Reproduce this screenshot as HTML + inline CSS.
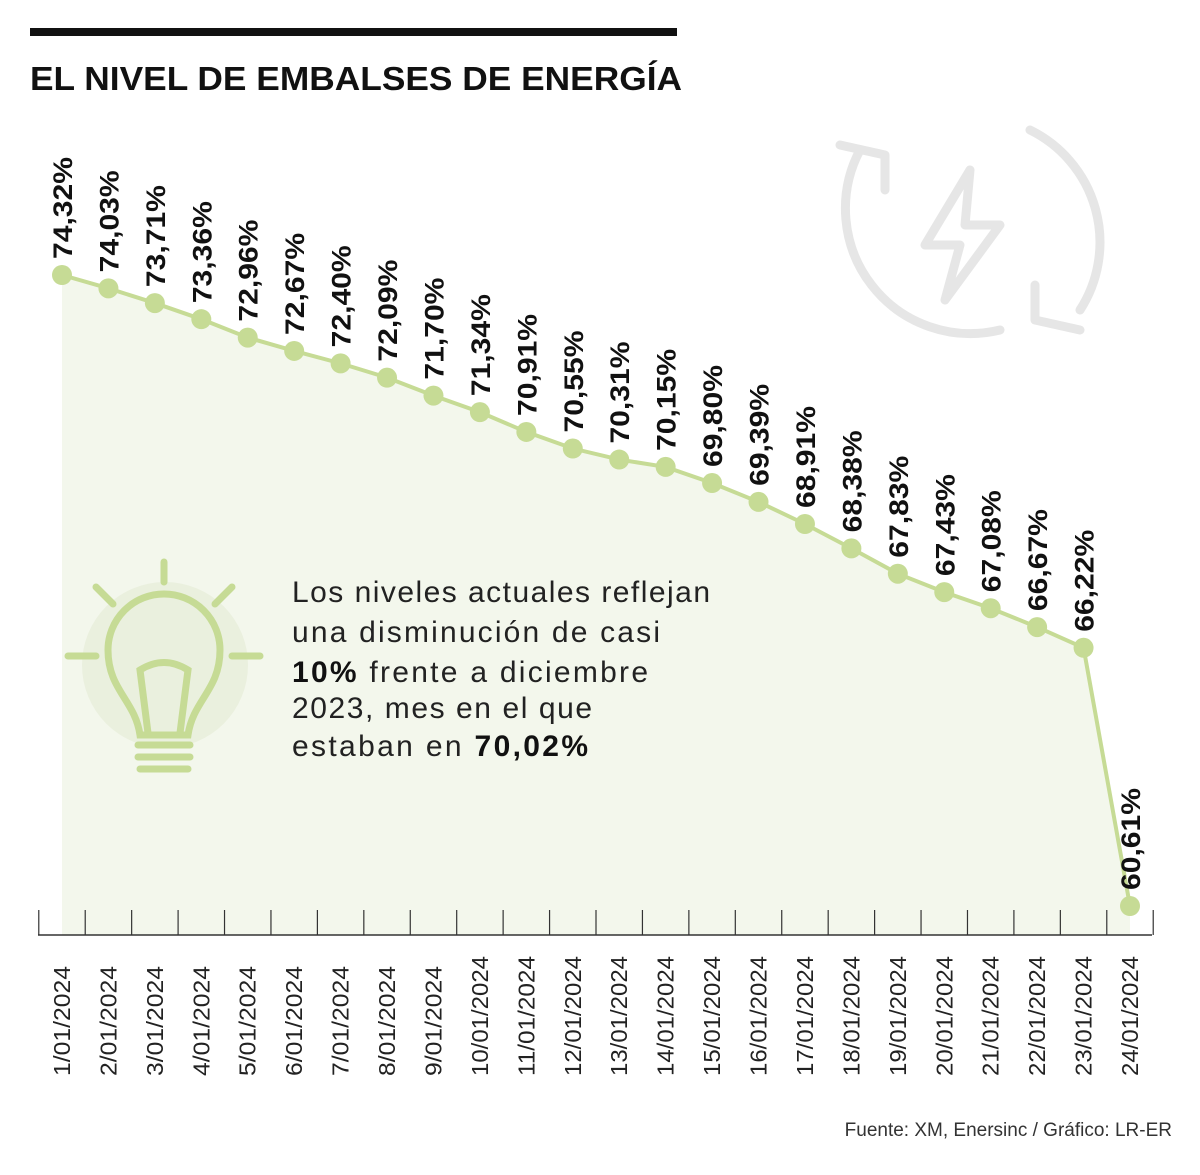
<!DOCTYPE html>
<html><head><meta charset="utf-8">
<style>
body{margin:0;background:#fff;}
svg text{font-family:"Liberation Sans",sans-serif;}
</style></head>
<body>
<svg width="1200" height="1170" viewBox="0 0 1200 1170" xmlns="http://www.w3.org/2000/svg">
<rect x="30" y="28" width="647" height="8" fill="#111"/>
<text x="30" y="90" font-size="33" font-weight="bold" fill="#111" textLength="652" lengthAdjust="spacingAndGlyphs">EL NIVEL DE EMBALSES DE ENERGÍA</text>
<g id="area"></g>
<g fill="none" stroke="#e6e6e6" stroke-width="9" stroke-linecap="round" stroke-linejoin="round">
<path d="M1030 130 A125 125 0 0 1 1080 310"/>
<path d="M1000 330 A125 125 0 0 1 860 150"/>
<path d="M840 145 L885 155 L885 190"/>
<path d="M1080 330 L1035 320 L1035 285"/>
<path d="M970 170 L925 245 L960 245 L945 300 L1000 225 L965 225 Z"/>
</g>
<g>
<circle cx="165" cy="665" r="83" fill="#eaf0de"/>
<g fill="none" stroke="#c6db95" stroke-width="7" stroke-linecap="round">
<line x1="164" y1="562" x2="164" y2="582"/><line x1="96" y1="587" x2="113" y2="604"/><line x1="232" y1="587" x2="215" y2="604"/>
<line x1="68" y1="656" x2="96" y2="656"/><line x1="232" y1="656" x2="260" y2="656"/>
<path d="M140 735 C135 700 108 690 108 650 A56 56 0 0 1 220 650 C220 690 193 700 188 735 Z"/>
<path d="M148 733 L140 670 Q164 655 188 670 L180 733"/>
<line x1="138" y1="745" x2="190" y2="745"/><line x1="138" y1="757" x2="190" y2="757"/><line x1="140" y1="769" x2="188" y2="769"/>
</g>
</g>
<text font-size="30" fill="#222" lengthAdjust="spacingAndGlyphs">
<tspan x="292" y="602" textLength="418">Los niveles actuales reflejan</tspan>
<tspan x="292" y="642" textLength="368">una disminución de casi</tspan>
<tspan x="292" y="682" textLength="356"><tspan font-weight="bold" fill="#111">10%</tspan> frente a diciembre</tspan>
<tspan x="292" y="718" textLength="300">2023, mes en el que</tspan>
<tspan x="292" y="756" textLength="296">estaban en <tspan font-weight="bold" fill="#111">70,02%</tspan></tspan>
</text>
<g id="marks"></g>
<text x="1172" y="1136" font-size="19" fill="#333" text-anchor="end">Fuente: XM, Enersinc / Gráfico: LR-ER</text>
</svg>
<script>
const dates=["1/01/2024","2/01/2024","3/01/2024","4/01/2024","5/01/2024","6/01/2024","7/01/2024","8/01/2024","9/01/2024","10/01/2024","11/01/2024","12/01/2024","13/01/2024","14/01/2024","15/01/2024","16/01/2024","17/01/2024","18/01/2024","19/01/2024","20/01/2024","21/01/2024","22/01/2024","23/01/2024","24/01/2024"];
const levels=[74.32,74.03,73.71,73.36,72.96,72.67,72.40,72.09,71.70,71.34,70.91,70.55,70.31,70.15,69.80,69.39,68.91,68.38,67.83,67.43,67.08,66.67,66.22,60.61];
const NS="http://www.w3.org/2000/svg";
const x=i=>62+i*(1130-62)/23;
const y=v=>275+(74.32-v)*(906-275)/(74.32-60.61);
const baseY=935;
function mk(t,a,p){const e=document.createElementNS(NS,t);for(const k in a)e.setAttribute(k,a[k]);(p||document.getElementById('marks')).appendChild(e);return e;}
const area=document.getElementById('area');
let d="M"+x(0)+" "+baseY;levels.forEach((v,i)=>d+=" L"+x(i)+" "+y(v));d+=" L"+x(levels.length-1)+" "+baseY+" Z";
const ar=mk('path',{d:d,fill:"#f3f7ec"},area);


const ax=mk('line',{x1:38,y1:baseY,x2:1152,y2:baseY,stroke:"#333","stroke-width":1.5});


for(let i=0;i<=levels.length;i++){const tx=x(i)-(x(1)-x(0))/2;const t=mk('line',{x1:tx,y1:baseY,x2:tx,y2:910,stroke:"#333","stroke-width":1.2});

}
const ln=mk('polyline',{points:levels.map((v,i)=>x(i)+","+y(v)).join(" "),fill:"none",stroke:"#c6db95","stroke-width":4});


levels.forEach((v,i)=>{
const c=mk('circle',{cx:x(i),cy:y(v),r:10,fill:"#c6db95"});


const l=mk('text',{x:0,y:0,transform:`translate(${x(i)+10},${y(v)-16}) rotate(-90)`,"font-size":27,"font-weight":"bold",fill:"#111",textLength:102,lengthAdjust:"spacingAndGlyphs"});
l.textContent=v.toFixed(2).replace('.',',')+"%";


const dl=mk('text',{x:0,y:0,transform:`translate(${x(i)+8},1076) rotate(-90)`,"font-size":23,fill:"#222",textLength:dates[i].length>9?120:110,lengthAdjust:"spacingAndGlyphs"});
dl.textContent=dates[i];


});
</script>
</body></html>
